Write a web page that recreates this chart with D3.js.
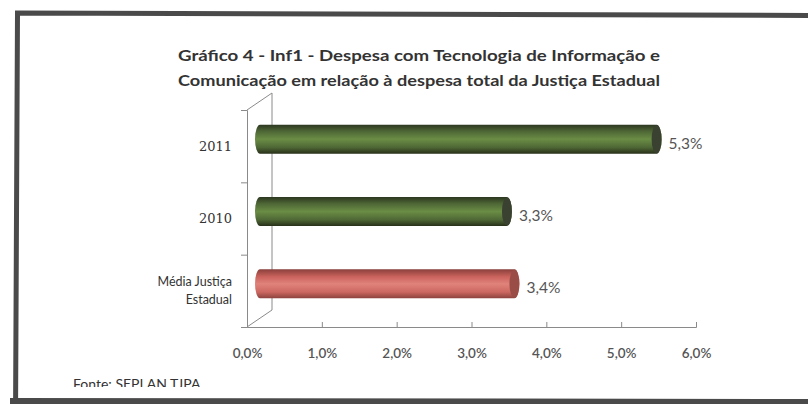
<!DOCTYPE html>
<html>
<head>
<meta charset="utf-8">
<style>
  body { margin: 0; background: #fff; }
  svg { display: block; }
</style>
</head>
<body>
<div id="chart"></div>
<script src="https://d3js.org/d3.v7.min.js"></script>
<script>
'use strict';

// chart data
var titleLines = ['Gráfico 4 - Inf1 - Despesa com Tecnologia de Informação e',
                  'Comunicação em relação à despesa total da Justiça Estadual'];
var categories = ['2011', '2010', 'Média Justiça Estadual'];
var categoryLines = [['2011'], ['2010'], ['Média Justiça', 'Estadual']];
var values = [5.3, 3.3, 3.4];
var barKinds = ['green', 'green', 'red'];
var xTicks = [0, 1, 2, 3, 4, 5, 6];
var source = 'Fonte: SEPLAN TJPA';

var W = 808, H = 404;
var SANS = 'Lato, "Open Sans", sans-serif';
var SERIF = '"DejaVu Serif", "Liberation Serif", serif';
var dx = 13, dy = -7;      // depth offset of the bars
var wx = 25, wy = -17;     // depth offset of the back wall

var svg = d3.select('#chart').append('svg')
  .attr('width', W).attr('height', H)
  .style('font-family', SANS);

var defs = svg.append('defs');

var grads = {
  green: [['0%', '#2c3620'], ['22%', '#4d6535'], ['50%', '#6a8d45'], ['78%', '#4f6836'], ['100%', '#283019']],
  red:   [['0%', '#8a403c'], ['25%', '#c9625c'], ['50%', '#e0837a'], ['78%', '#cc6861'], ['100%', '#8c423d']]
};
var capFill = { green: '#3a4130', red: '#9a4c47' };

Object.keys(grads).forEach(function(k) {
  var g = defs.append('linearGradient').attr('id', 'g-' + k)
    .attr('x1', 0).attr('y1', 0).attr('x2', 0).attr('y2', 1);
  grads[k].forEach(function(s) {
    g.append('stop').attr('offset', s[0]).attr('stop-color', s[1]);
  });
});

defs.append('clipPath').attr('id', 'srcclip')
  .append('rect').attr('x', 0).attr('y', 360).attr('width', 400).attr('height', 27);

var x = d3.scaleLinear().domain([0, 6]).range([247, 696]);
var y = d3.scaleBand().domain(categories).range([110, 327]);
var yl = d3.scaleLinear().domain([0, 3]).range([327, 110]);

// title
titleLines.forEach(function(t, i) {
  svg.append('text')
    .attr('x', 419).attr('y', 61 + i * 25)
    .attr('text-anchor', 'middle')
    .attr('font-weight', 'bold')
    .attr('font-size', 16)
    .attr('textLength', 482)
    .attr('lengthAdjust', 'spacingAndGlyphs')
    .attr('fill', '#333')
    .text(t);
});

// walls
var wall = svg.append('g').attr('stroke', '#8a8a8a').attr('fill', 'none').attr('stroke-width', 1);
wall.append('path')
  .attr('d', 'M' + x(0) + ',' + yl(3) + 'L' + (x(0) + wx) + ',' + (yl(3) + wy) +
             'L' + (x(0) + wx) + ',' + (yl(0) + wy) + 'L' + x(0) + ',' + yl(0));

// axes
var yAxis = svg.append('g')
  .attr('transform', 'translate(' + x(0) + ',0)')
  .call(d3.axisLeft(yl).tickValues([0, 1, 2, 3]).tickSize(6).tickFormat(''));
yAxis.select('.domain').attr('stroke', '#8a8a8a');
yAxis.selectAll('.tick line').attr('stroke', '#8a8a8a');

var xAxis = svg.append('g')
  .attr('transform', 'translate(0,' + yl(0) + ')')
  .call(d3.axisBottom(x).tickValues(xTicks).tickSize(-5).tickPadding(21)
    .tickFormat(function(d) { return d.toFixed(1).replace('.', ',') + '%'; }));
xAxis.attr('font-family', null).attr('font-size', null);
xAxis.select('.domain').attr('stroke', '#8a8a8a');
xAxis.selectAll('.tick line').attr('stroke', '#8a8a8a');
xAxis.selectAll('.tick text')
  .attr('font-size', 13.5).attr('font-weight', 600).attr('fill', '#555');

// category labels
categories.forEach(function(c, i) {
  var lines = categoryLines[i];
  var cy = y(c) + y.bandwidth() / 2;
  var serif = lines.length === 1;
  lines.forEach(function(l, j) {
    svg.append('text')
      .attr('x', 232)
      .attr('y', cy + (j - (lines.length - 1) / 2) * 18)
      .attr('dy', '0.35em')
      .attr('text-anchor', 'end')
      .attr('font-size', serif ? 13 : 12.5)
      .style('font-family', serif ? SERIF : SANS)
      .attr('fill', '#333')
      .text(l);
  });
});

// bars as cylinders
var bh = 29, rx = 5;
categories.forEach(function(c, i) {
  var v = values[i], k = barKinds[i];
  var cy = y(c) + y.bandwidth() / 2 + dy;
  var x0 = x(0) + dx, x1 = x(v) + dx;
  var top = cy - bh / 2, bot = cy + bh / 2;
  svg.append('path')
    .attr('d', 'M' + x0 + ',' + top + 'L' + x1 + ',' + top +
               'A' + rx + ',' + (bh / 2) + ' 0 0 1 ' + x1 + ',' + bot +
               'L' + x0 + ',' + bot +
               'A' + rx + ',' + (bh / 2) + ' 0 0 1 ' + x0 + ',' + top + 'Z')
    .attr('fill', 'url(#g-' + k + ')');
  svg.append('ellipse')
    .attr('cx', x1).attr('cy', cy)
    .attr('rx', rx).attr('ry', bh / 2 - 0.5)
    .attr('fill', capFill[k]);
  svg.append('text')
    .attr('x', x1 + 12).attr('y', cy + 4)
    .attr('dy', '0.35em')
    .attr('font-size', 15.5).attr('fill', '#555')
    .text(v.toFixed(1).replace('.', ',') + '%');
});

// source note, cut off at its bottom like the reference
svg.append('text')
  .attr('clip-path', 'url(#srcclip)')
  .attr('x', 73).attr('y', 389)
  .attr('font-size', 14).attr('fill', '#333')
  .text(source);

// outer frame
var frame = svg.append('g').attr('stroke', '#4a4a4a').attr('fill', 'none');
frame.append('path').attr('stroke-width', 5)
  .attr('d', 'M818,15.5L17.5,13L15.5,420');
frame.append('path').attr('stroke-width', 6)
  .attr('d', 'M10,401L818,402');
</script>
</body>
</html>
